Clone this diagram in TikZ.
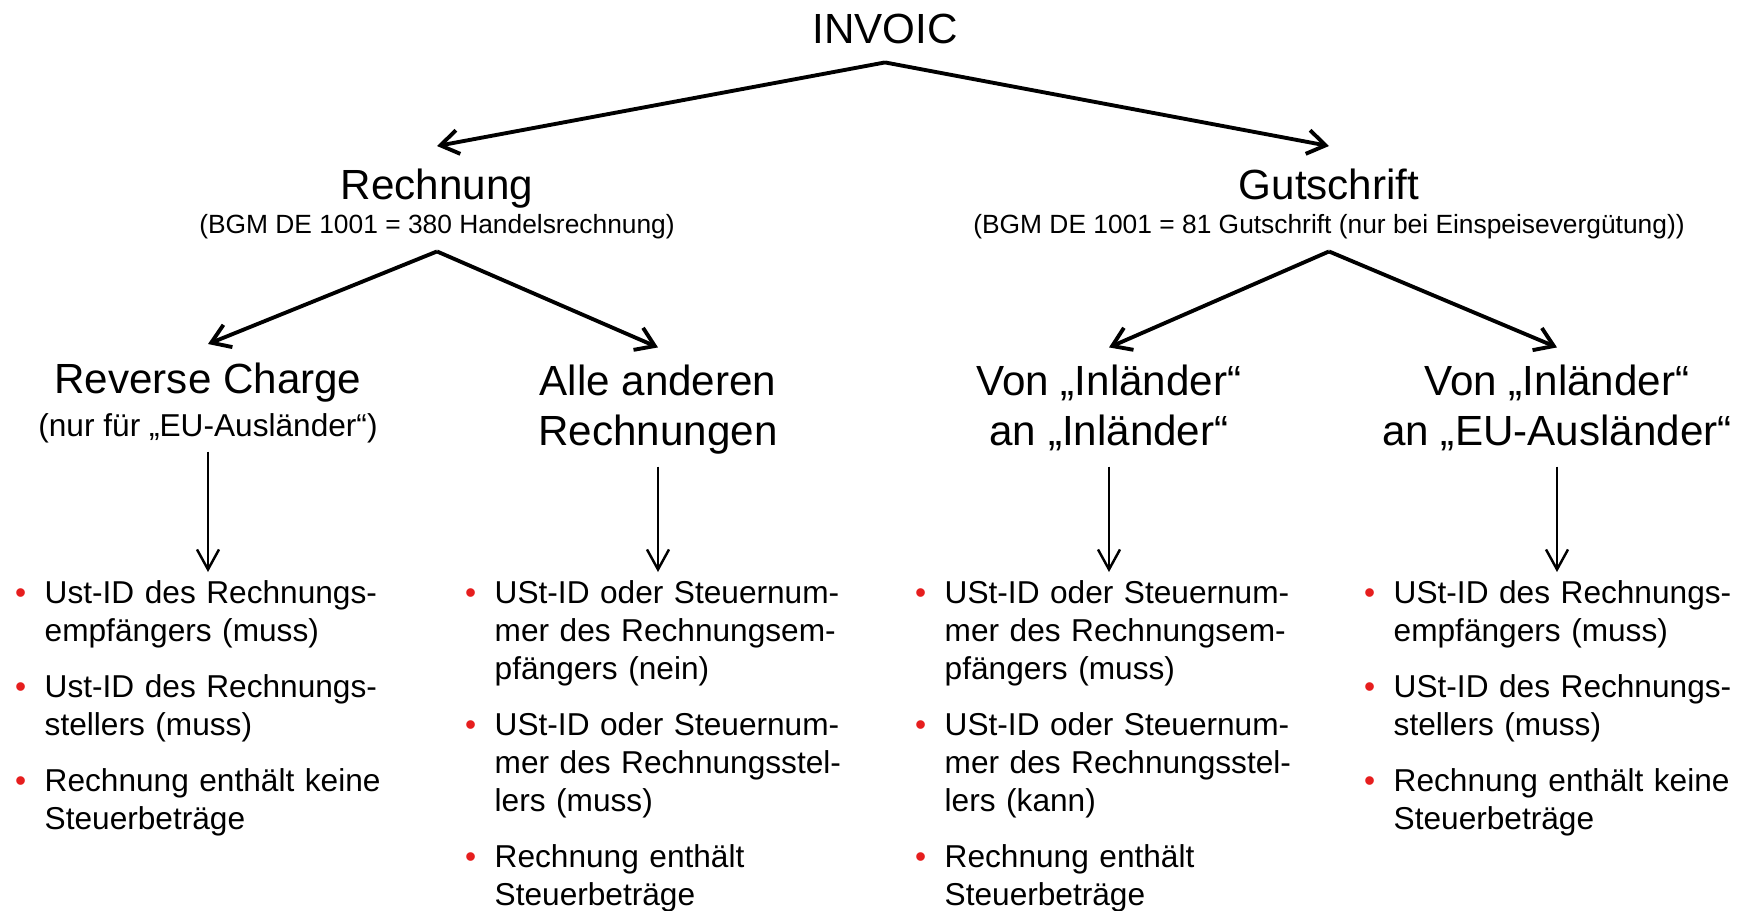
\documentclass[tikz,border=0pt]{standalone}
\usepackage{fontspec}
\setmainfont{Liberation Sans}
\usetikzlibrary{arrows.meta}
\usetikzlibrary{positioning}
\definecolor{bulred}{RGB}{230,30,30}
\setlength{\parindent}{0pt}
\newcommand{\bul}{\leavevmode\llap{\textcolor{bulred}{\textbullet}\hspace{1.85mm}}}

\begin{document}
\begin{tikzpicture}[x=0.1mm, y=-0.1mm,
            node distance = 1.65mm,
            head/.style = {inner sep=0pt, anchor=north, align=center,
                font=\fontsize{12}{14.4}\selectfont,
                execute at begin node=\strut, execute at end node=\strut},
            note/.style = {inner sep=0pt, anchor=north, align=center,
                font=\fontsize{9}{10.8}\selectfont,
                execute at begin node=\strut, execute at end node=\strut},
            code/.style = {inner sep=0pt, anchor=north, align=center,
                font=\fontsize{7.5}{9}\selectfont,
                execute at begin node=\strut, execute at end node=\strut},
            item/.style = {inner sep=0pt, anchor=north west, align=left,
                text width=38mm, font=\fontsize{9}{10.8}\selectfont,
                execute at begin node=\strut\bul, execute at end node=\strut},
            link/.style = {-{Straight Barb[length=1.8mm,width=2.4mm]}, line width=1.1pt},
            drop/.style = {-{Straight Barb[length=2mm,width=2.2mm]}, line width=0.7pt}]
            \useasboundingbox (0,0) rectangle (1742,910);
            % tree
            \node[head] (invoic) at (885,7.6) {INVOIC};
            \node[head] (rech) at (437,163.6) {Rechnung};
            \node[code] (rechsub) at (437,210.9) {(BGM DE 1001 = 380 Handelsrechnung)};
            \node[head] (gut) at (1329,163.6) {Gutschrift};
            \node[code] (gutsub) at (1329,210.9) {(BGM DE 1001 = 81 Gutschrift (nur bei Einspeisevergütung))};
            \node[head] (rc) at (208,357.8) {Reverse Charge};
            \node[note] (rcnote) at (208,408.9) {(nur für „EU-Ausländer“)};
            \node[head] (other) at (658,364) {Alle anderen\\Rechnungen};
            \node[head] (inin) at (1109,364) {Von „Inländer“\\an „Inländer“};
            \node[head] (ineu) at (1557,364) {Von „Inländer“\\an „EU-Ausländer“};
            % lists
            \node[item] (c1a) at (44,576.4) {Ust-ID des Rechnungs-\\empfängers (muss)};
            \node[item, below=of c1a] (c1b) {Ust-ID des Rechnungs-\\stellers (muss)};
            \node[item, below=of c1b] (c1c) {Rechnung enthält keine\\Steuerbeträge};
            \node[item] (c2a) at (494,576.4) {USt-ID oder Steuernum-\\mer des Rechnungsem-\\pfängers (nein)};
            \node[item, below=of c2a] (c2b) {USt-ID oder Steuernum-\\mer des Rechnungsstel-\\lers (muss)};
            \node[item, below=of c2b] (c2c) {Rechnung enthält\\Steuerbeträge};
            \node[item] (c3a) at (944,576.4) {USt-ID oder Steuernum-\\mer des Rechnungsem-\\pfängers (muss)};
            \node[item, below=of c3a] (c3b) {USt-ID oder Steuernum-\\mer des Rechnungsstel-\\lers (kann)};
            \node[item, below=of c3b] (c3c) {Rechnung enthält\\Steuerbeträge};
            \node[item] (c4a) at (1393,576.4) {USt-ID des Rechnungs-\\empfängers (muss)};
            \node[item, below=of c4a] (c4b) {USt-ID des Rechnungs-\\stellers (muss)};
            \node[item, below=of c4b] (c4c) {Rechnung enthält keine\\Steuerbeträge};
            \coordinate (t1) at (rcnote.south |- c1a.north);
            \coordinate (t2) at (other.south |- c2a.north);
            \coordinate (t3) at (inin.south |- c3a.north);
            \coordinate (t4) at (ineu.south |- c4a.north);
            % arrows
            \draw[link] ([yshift=-0.28mm]invoic.south) -- ([yshift=1.76mm]rech.north);
            \draw[link] ([yshift=-0.28mm]invoic.south) -- ([yshift=1.76mm]gut.north);
            \draw[link] ([yshift=-0.75mm]rechsub.south) -- ([yshift=1.38mm]rc.north);
            \draw[link] ([yshift=-0.75mm]rechsub.south) -- ([yshift=1.66mm]other.north);
            \draw[link] ([yshift=-0.75mm]gutsub.south) -- ([yshift=1.66mm]inin.north);
            \draw[link] ([yshift=-0.75mm]gutsub.south) -- ([yshift=1.66mm]ineu.north);
            \draw[drop] ([yshift=-0.33mm]rcnote.south) -- ([yshift=0.44mm]t1);
            \draw[drop] ([yshift=-0.48mm]other.south) -- ([yshift=0.44mm]t2);
            \draw[drop] ([yshift=-0.48mm]inin.south) -- ([yshift=0.44mm]t3);
            \draw[drop] ([yshift=-0.48mm]ineu.south) -- ([yshift=0.44mm]t4);
        \end{tikzpicture}
\end{document}
